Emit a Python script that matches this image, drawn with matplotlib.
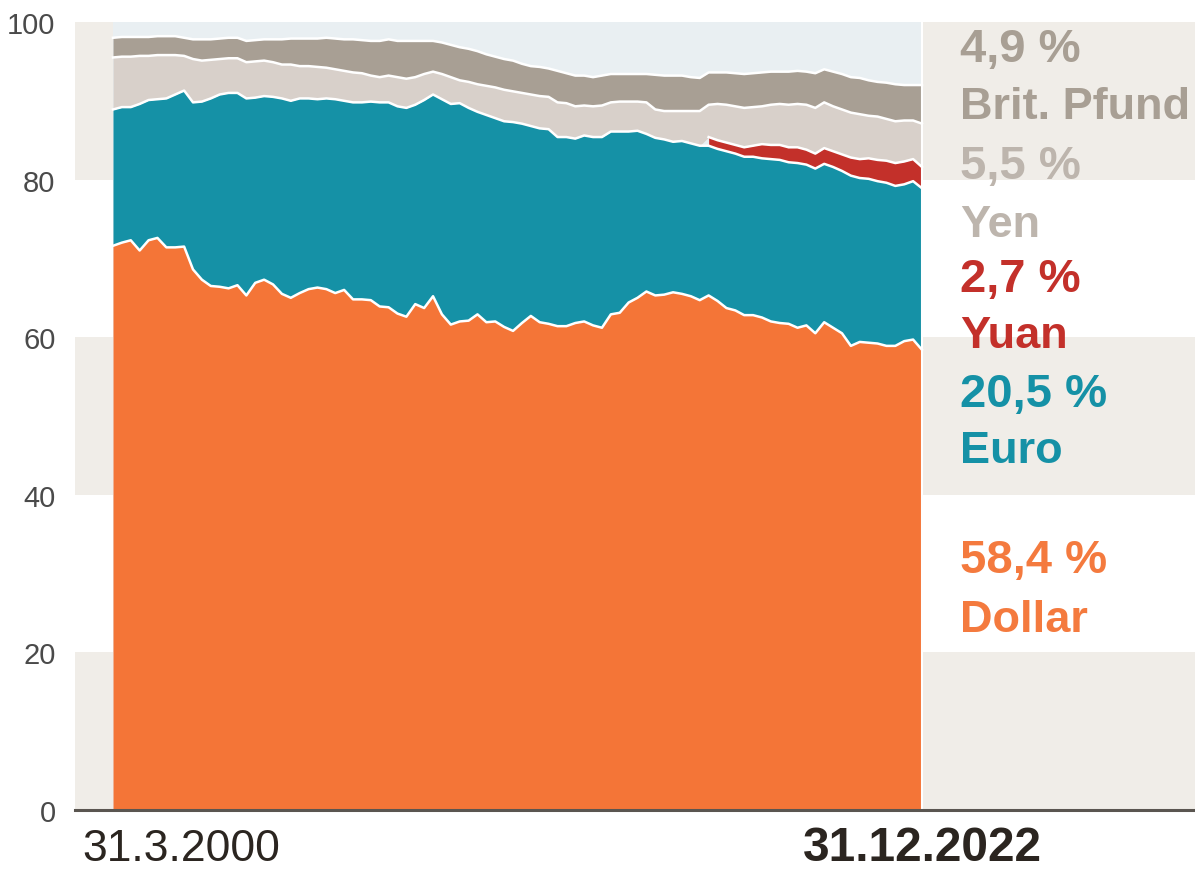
import matplotlib
matplotlib.use("Agg")
import matplotlib.pyplot as plt
import numpy as np

plt.rcParams['font.family'] = ['Liberation Sans', 'DejaVu Sans']

# Anteile an den Währungsreserven, Quartale 31.3.2000 - 31.12.2022 (in %)
dollar = [71.6, 72.0, 72.3, 71.0, 72.3, 72.6, 71.4, 71.4, 71.5, 68.6,
          67.3, 66.5, 66.4, 66.2, 66.6, 65.3, 66.9, 67.3, 66.7, 65.5,
          65.0, 65.6, 66.1, 66.3, 66.1, 65.6, 66.0, 64.8, 64.8, 64.7,
          63.9, 63.8, 63.0, 62.6, 64.2, 63.7, 65.2, 62.9, 61.6, 62.0,
          62.1, 62.9, 61.9, 62.0, 61.3, 60.8, 61.8, 62.7, 61.9, 61.7,
          61.4, 61.4, 61.8, 62.0, 61.5, 61.2, 62.9, 63.1, 64.4, 65.0,
          65.8, 65.3, 65.4, 65.7, 65.5, 65.2, 64.7, 65.3, 64.6, 63.7,
          63.4, 62.8, 62.8, 62.5, 62.0, 61.8, 61.7, 61.2, 61.5, 60.5,
          61.9, 61.2, 60.5, 58.9, 59.4, 59.3, 59.2, 58.9, 58.9, 59.5,
          59.7, 58.4]
euro = [17.3, 17.2, 16.9, 18.6, 17.8, 17.6, 18.9, 19.4, 19.8, 21.2,
        22.6, 23.8, 24.4, 24.8, 24.4, 25.0, 23.5, 23.3, 23.8, 24.8,
        25.0, 24.7, 24.2, 23.9, 24.2, 24.6, 24.0, 25.0, 25.0, 25.2,
        25.9, 26.0, 26.3, 26.5, 25.3, 26.4, 25.6, 27.3, 28.0, 27.7,
        27.0, 25.7, 26.3, 25.8, 26.1, 26.5, 25.3, 24.1, 24.6, 24.7,
        24.0, 24.0, 23.4, 23.6, 23.9, 24.2, 23.2, 23.0, 21.7, 21.2,
        20.0, 20.0, 19.7, 19.1, 19.4, 19.4, 19.6, 19.0, 19.3, 19.9,
        19.9, 20.1, 20.1, 20.2, 20.6, 20.7, 20.5, 20.9, 20.4, 20.9,
        20.1, 20.4, 20.6, 21.6, 20.8, 20.8, 20.6, 20.7, 20.3, 19.9,
        20.1, 20.5]
# Yuan erst ab 31.12.2016 ausgewiesen
yuan_start = 67
yuan = [1.1, 1.1, 1.1, 1.1, 1.2, 1.4, 1.8, 1.8, 1.9, 1.9,
        2.0, 1.9, 1.9, 2.0, 2.0, 2.1, 2.3, 2.4, 2.6, 2.7,
        2.8, 2.9, 2.9, 2.8, 2.7]
yen = [6.6, 6.4, 6.4, 6.1, 5.6, 5.6, 5.5, 5.0, 4.4, 5.5,
       5.2, 4.9, 4.5, 4.4, 4.4, 4.6, 4.6, 4.5, 4.4, 4.3,
       4.6, 4.1, 4.1, 4.1, 3.9, 3.8, 3.8, 3.8, 3.7, 3.3,
       3.2, 3.4, 3.7, 3.7, 3.5, 3.3, 2.9, 3.2, 3.4, 2.9,
       3.3, 3.5, 3.7, 3.9, 4.0, 3.9, 3.9, 4.0, 4.1, 4.1,
       4.4, 4.3, 4.1, 3.8, 3.9, 4.0, 3.7, 3.8, 3.8, 3.7,
       4.0, 3.6, 3.6, 3.9, 3.8, 4.1, 4.4, 4.1, 4.6, 4.8,
       4.9, 5.0, 4.9, 4.8, 5.1, 5.2, 5.4, 5.5, 5.7, 5.8,
       5.8, 5.7, 5.7, 5.7, 5.7, 5.4, 5.5, 5.3, 5.3, 5.2,
       4.9, 5.5]
pound = [2.5, 2.5, 2.5, 2.4, 2.4, 2.4, 2.4, 2.4, 2.3, 2.5,
         2.7, 2.6, 2.6, 2.6, 2.6, 2.7, 2.7, 2.7, 2.9, 3.2,
         3.3, 3.5, 3.5, 3.6, 3.8, 3.9, 4.0, 4.2, 4.2, 4.4,
         4.6, 4.6, 4.6, 4.8, 4.6, 4.2, 3.9, 4.0, 4.1, 4.2,
         4.2, 4.2, 4.0, 3.9, 3.9, 3.9, 3.7, 3.6, 3.7, 3.6,
         4.0, 3.8, 3.9, 3.8, 3.7, 3.8, 3.6, 3.5, 3.5, 3.5,
         3.6, 4.4, 4.5, 4.5, 4.5, 4.3, 4.2, 4.1, 4.0, 4.1,
         4.2, 4.3, 4.3, 4.3, 4.2, 4.1, 4.2, 4.2, 4.2, 4.4,
         4.2, 4.4, 4.5, 4.5, 4.6, 4.5, 4.4, 4.6, 4.7, 4.5,
         4.5, 4.9]

names = ['Dollar', 'Euro', 'Yuan', 'Yen', 'Brit. Pfund']
colors = ['#f47537', '#1591a6', '#c3302a', '#d8d0ca', '#a89f94']
label_colors = ['#f47a3e', '#1591a6', '#c3302a', '#bdb5ad', '#a89f94']
date_first = '31.3.2000'
date_last = '31.12.2022'

n = len(dollar)
x = np.arange(n)
yuan_full = np.zeros(n)
yuan_full[yuan_start:] = yuan
layers = [np.array(dollar), np.array(euro), yuan_full, np.array(yen), np.array(pound)]
tops = np.cumsum(layers, axis=0)

fig = plt.figure(figsize=(11.95, 8.7), dpi=100)
ax = fig.add_axes([75 / 1195, 59 / 870, 1 - 75 / 1195, (811 - 23) / 870])
ax.set_xlim(-38 / 8.89, (1195 - 113) / 8.89)
ax.set_ylim(0, 100)

# Hintergrundbänder
for lo in (0, 40, 80):
    ax.axhspan(lo, lo + 20, color='#f0ede8', lw=0, zorder=0)
ax.fill_between([0, n - 1], 0, 100, color='#e9eff2', lw=0, zorder=1)

bottom = np.zeros(n)
for i, (lay, c) in enumerate(zip(layers, colors)):
    top = bottom + lay
    if i == 2:
        m = x >= yuan_start
        ax.fill_between(x[m], bottom[m], top[m], color=c, lw=0, zorder=2)
    else:
        ax.fill_between(x, bottom, top, color=c, lw=0, zorder=2)
    bottom = top

for i in range(len(layers)):
    if i == 2:
        ax.plot(x[yuan_start:], tops[i][yuan_start:], color='white', lw=1.8, zorder=3)
    else:
        ax.plot(x, tops[i], color='white', lw=1.8, zorder=3)
ax.axvline(n - 1, color='white', lw=1.5, zorder=3)

ax.axhline(0, color='#5a5550', lw=2.2, zorder=5, clip_on=False)

for s in ax.spines.values():
    s.set_visible(False)
ax.set_xticks([])
ax.set_yticks([0, 20, 40, 60, 80, 100])
ax.tick_params(axis='y', length=0, pad=14, labelsize=21, labelcolor='#4a4a4a')

# Endwerte rechts
label_y = [(30.2, 22.7), (51.3, 44.2), (65.9, 58.8), (80.2, 72.9), (95.0, 87.8)]
for lay, name, c, (y1, y2) in zip(layers, names, label_colors, label_y):
    val = f"{lay[-1]:.1f}".replace('.', ',') + ' %'
    ax.text(95.3, y1, val, color=c, fontsize=34, fontweight='bold', va='baseline', ha='left')
    ax.text(95.3, y2, name, color=c, fontsize=32.5, fontweight='bold', va='baseline', ha='left')

ax.text(-3.5, -6.4, date_first, fontsize=32, color='#2b2520', va='baseline', ha='left')
ax.text(n - 1, -6.4, date_last, fontsize=34.5, fontweight='bold', color='#2b2520',
        va='baseline', ha='center')

fig.savefig('out.png', dpi=100)
